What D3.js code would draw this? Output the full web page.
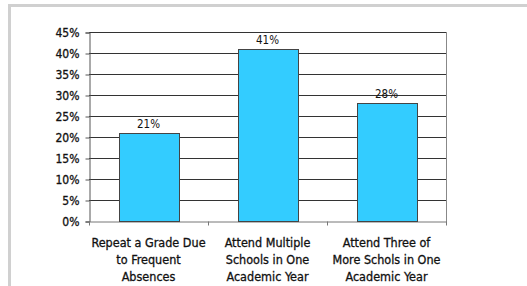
<!DOCTYPE html>
<html>
<head>
<meta charset="utf-8">
<script src="https://cdn.jsdelivr.net/npm/d3@7"></script>
<style>
  body { margin: 0; background: #fff; }
  svg { display: block; }
  text { font-family: "DejaVu Sans Condensed", "DejaVu Sans", sans-serif; fill: #111; }
</style>
</head>
<body>
<svg id="chart" width="527" height="286"></svg>
<script>
// категории и значения
var categories = [
  ['Repeat a Grade Due', 'to Frequent', 'Absences'],
  ['Attend Multiple', 'Schools in One', 'Academic Year'],
  ['Attend Three of', 'More Schols in One', 'Academic Year']
];
var values = [21, 41, 28];
var yTicks = [0, 5, 10, 15, 20, 25, 30, 35, 40, 45];

(function () {
  var svg = d3.select('#chart'),
      left = 89, right = 446, plotTop = 32, bottom = 221;

  // рамка
  svg.append('path')
    .attr('d', 'M9.5,290 L9.5,5.5 L530,5.5')
    .attr('fill', 'none')
    .attr('stroke', '#d0d0d0')
    .attr('stroke-width', 3);

  var x = d3.scaleBand().domain(d3.range(values.length)).range([left, right]).paddingInner(0.5).paddingOuter(0.25);
  var xb = d3.scaleBand().domain(d3.range(values.length)).range([left, right]);
  var y = d3.scaleLinear().domain([0, 45]).range([bottom, plotTop]);

  // сетка
  svg.append('g').selectAll('line')
    .data(yTicks.slice(1))
    .enter().append('line')
    .attr('x1', left).attr('x2', right)
    .attr('y1', function(d) { return Math.round(y(d)) + 0.5; })
    .attr('y2', function(d) { return Math.round(y(d)) + 0.5; })
    .attr('stroke', '#333').attr('stroke-width', 1);

  // правая граница
  svg.append('line')
    .attr('x1', right + 0.5).attr('x2', right + 0.5)
    .attr('y1', plotTop).attr('y2', bottom + 4)
    .attr('stroke', '#888');

  // ось Y
  var yAxis = svg.append('g')
    .attr('transform', 'translate(' + (left + 0.5) + ',0.5)')
    .call(d3.axisLeft(y).tickValues(yTicks).tickSize(4).tickPadding(6)
      .tickFormat(function(d) { return d + '%'; }));
  yAxis.selectAll('path, line').attr('stroke', '#555');
  yAxis.selectAll('text').style('font-size', '12px')
    .style('font-family', '"DejaVu Sans Condensed", "DejaVu Sans", sans-serif')
    .attr('fill', '#111').attr('stroke', '#111').attr('stroke-width', 0.3);

  // ось X
  var xAxis = svg.append('g')
    .attr('transform', 'translate(0,' + (bottom + 0.5) + ')')
    .call(d3.axisBottom(xb).tickSize(0).tickFormat(''));
  xAxis.select('path').attr('stroke', '#777');
  xAxis.append('g').selectAll('line')
    .data(d3.range(values.length + 1))
    .enter().append('line')
    .attr('x1', function(i) { return Math.round(left + i * xb.step()) + 0.5; })
    .attr('x2', function(i) { return Math.round(left + i * xb.step()) + 0.5; })
    .attr('y1', 0).attr('y2', 4)
    .attr('stroke', '#777');

  // столбцы
  svg.append('g').selectAll('rect')
    .data(values)
    .enter().append('rect')
    .attr('x', function(d, i) { return Math.round(x(i)) + 0.5; })
    .attr('y', function(d) { return Math.round(y(d)) + 0.5; })
    .attr('width', Math.round(x.bandwidth()))
    .attr('height', function(d) { return Math.round(bottom - y(d)); })
    .attr('fill', '#33ccff')
    .attr('stroke', '#444');

  // подписи значений
  svg.append('g').selectAll('text')
    .data(values)
    .enter().append('text')
    .attr('x', function(d, i) { return x(i) + x.bandwidth() / 2; })
    .attr('y', function(d) { return y(d) - 5; })
    .attr('text-anchor', 'middle')
    .style('font-size', '11.5px')
    .text(function(d) { return d + '%'; });

  // подписи категорий
  var cat = svg.append('g').selectAll('text')
    .data(categories)
    .enter().append('text')
    .attr('text-anchor', 'middle')
    .attr('stroke', '#111').attr('stroke-width', 0.3)
    .style('font-size', '12.5px');
  cat.selectAll('tspan')
    .data(function(d, i) { return d.map(function(t) { return { t: t, i: i }; }); })
    .enter().append('tspan')
    .attr('x', function(d) { return xb(d.i) + xb.bandwidth() / 2; })
    .attr('y', function(d, j) { return 247 + j * 17; })
    .text(function(d) { return d.t; });
})();
</script>
</body>
</html>
